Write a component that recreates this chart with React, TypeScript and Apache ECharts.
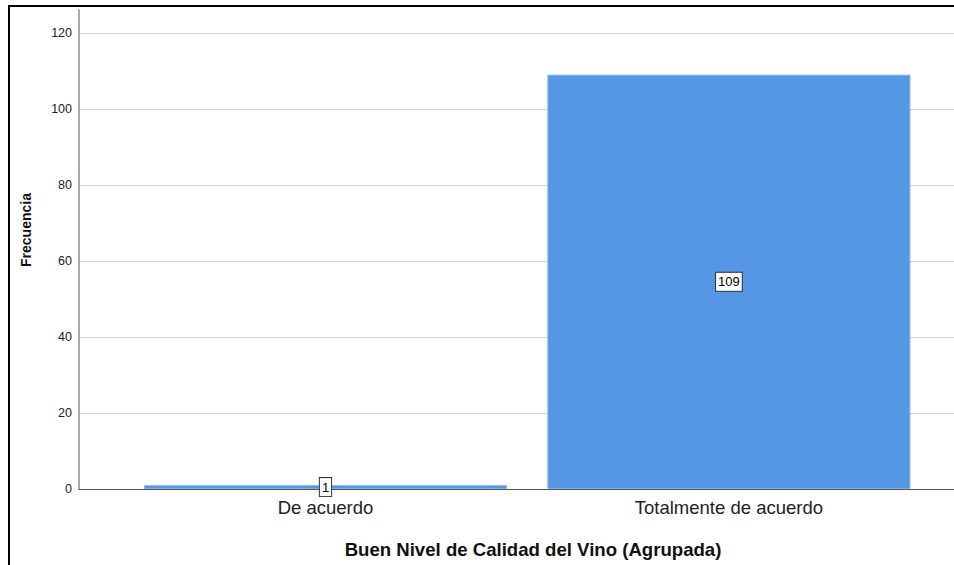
import React, { useEffect, useRef } from "react";
import * as echarts from "echarts";

const categories = ["De acuerdo", "Totalmente de acuerdo"];
const frequencies = [1, 109];
const yTicks = [0, 20, 40, 60, 80, 100, 120];
const xTitle = "Buen Nivel de Calidad del Vino (Agrupada)";
const yTitle = "Frecuencia";

const FONT = 'Arial, "Liberation Sans", sans-serif';

export default function App() {
  const ref = useRef<HTMLDivElement>(null);
  useEffect(() => {
    if (!ref.current) return;
    const chart = echarts.init(ref.current, undefined, { renderer: "svg" });
    const data = categories.map((c, i) => [i, frequencies[i]]);
    chart.setOption({
      animation: false,
      backgroundColor: "#ffffff",
      grid: { left: 79, top: 10, right: 0, bottom: 76 },
      xAxis: {
        type: "value",
        min: -0.611,
        max: 1.558,
        axisLine: { show: true, onZero: false, lineStyle: { color: "#555555", width: 1 } },
        axisTick: { show: false },
        splitLine: { show: false },
        axisLabel: {
          customValues: categories.map((c, i) => i),
          formatter: (v: number) => categories[Math.round(v)] ?? "",
          fontFamily: FONT,
          fontSize: 18.5,
          color: "#222222",
          margin: 9,
        },
      },
      yAxis: {
        type: "value",
        min: 0,
        max: 126,
        interval: 20,
        axisLine: { show: true, onZero: false, lineStyle: { color: "#ababab", width: 2 } },
        axisTick: { show: false },
        splitLine: { show: true, showMaxLine: false, showMinLine: false, lineStyle: { color: "#d2d2d2", width: 1 } },
        axisLabel: {
          customValues: yTicks,
          fontFamily: FONT,
          fontSize: 12.5,
          color: "#222222",
          margin: 7,
        },
      },
      series: [
        {
          type: "bar",
          data,
          barWidth: 363,
          itemStyle: { color: "#5596e5", borderColor: "#7fb0ec", borderWidth: 1 },
          label: {
            show: true,
            position: "inside",
            formatter: (p: any) => String(p.value[1]),
            fontFamily: FONT,
            fontSize: 13,
            color: "#000000",
            backgroundColor: "#ffffff",
            borderColor: "#333333",
            borderWidth: 1,
            padding: [3, 2, 2, 2],
          },
        },
      ],
      graphic: [
        {
          type: "rect",
          shape: { x: 9, y: 6, width: 1000, height: 600 },
          style: { fill: "none", stroke: "#000000", lineWidth: 2 },
          silent: true,
        },
        {
          type: "text",
          x: 533,
          y: 549,
          style: {
            text: xTitle,
            fontFamily: FONT,
            fontSize: 18.6,
            fontWeight: "bold",
            fill: "#111111",
            align: "center",
            verticalAlign: "middle",
          },
        },
        {
          type: "text",
          x: 26,
          y: 230,
          rotation: Math.PI / 2,
          style: {
            text: yTitle,
            fontFamily: FONT,
            fontSize: 14,
            fontWeight: "bold",
            fill: "#111111",
            align: "center",
            verticalAlign: "middle",
          },
        },
      ],
    });
    return () => chart.dispose();
  }, []);
  return (
    <div
      ref={ref}
      style={{ position: "fixed", left: 0, top: 0, width: 954, height: 565 }}
    />
  );
}
